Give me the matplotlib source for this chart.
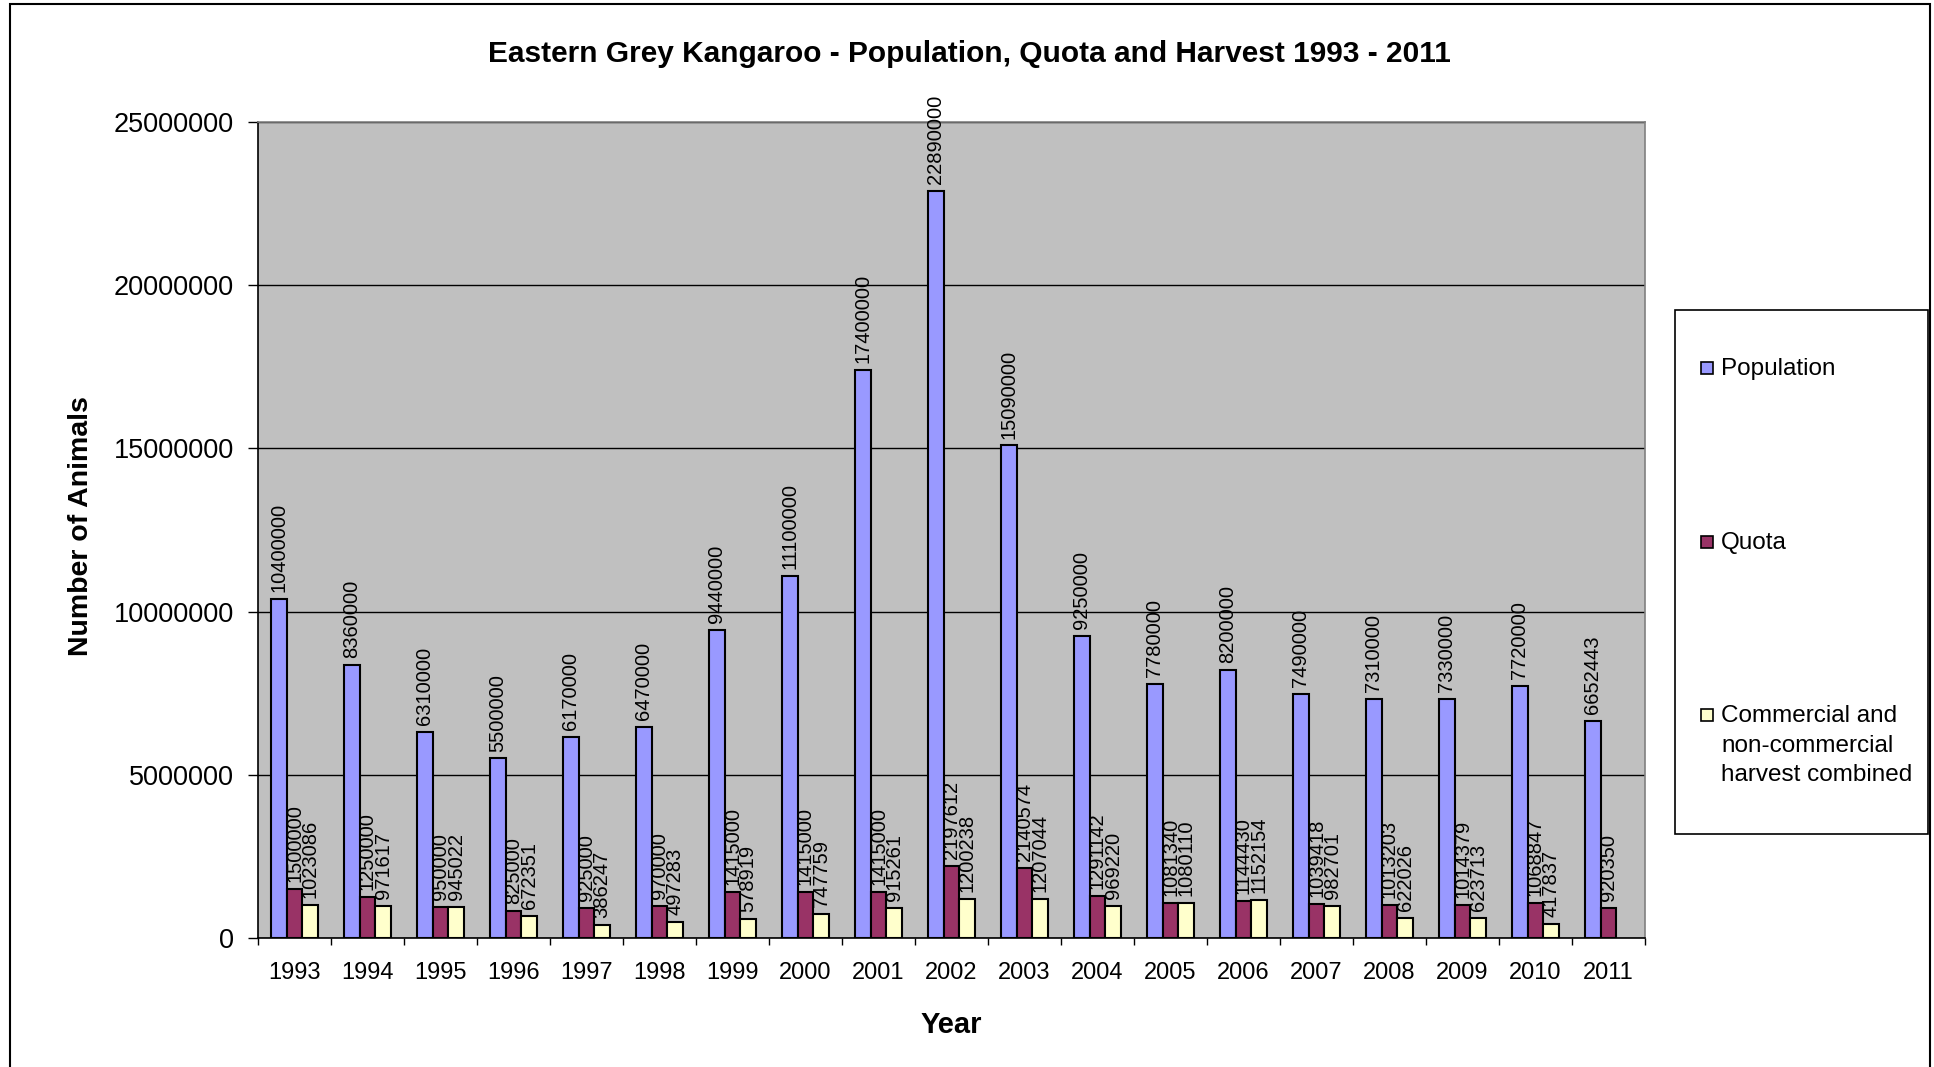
import matplotlib
matplotlib.use('Agg')
import matplotlib.pyplot as plt
from matplotlib.patches import Rectangle
import numpy as np

plt.rcParams['font.family'] = ['Liberation Sans', 'DejaVu Sans']

years = [str(y) for y in range(1993, 2012)]
population = [10400000, 8360000, 6310000, 5500000, 6170000, 6470000, 9440000,
              11100000, 17400000, 22890000, 15090000, 9250000, 7780000, 8200000,
              7490000, 7310000, 7330000, 7720000, 6652443]
quota = [1500000, 1250000, 950000, 825000, 925000, 970000, 1415000, 1415000,
         1415000, 2197612, 2140574, 1291142, 1081340, 1144430, 1039418,
         1013203, 1014379, 1068847, 920350]
harvest = [1023086, 971617, 945022, 672351, 386247, 497283, 578919, 747759,
           915261, 1200238, 1207044, 969220, 1080110, 1152154, 982701, 622026,
           623713, 417837, np.nan]

series = [("Population", population, "#9999FF"),
          ("Quota", quota, "#993366"),
          ("Commercial and\nnon-commercial\nharvest combined", harvest, "#FFFFCC")]

W, H = 1934, 1067
fig = plt.figure(figsize=(W / 100, H / 100), dpi=100)

# plot area in pixels
left, right, top, bottom = 258, 1645, 122, 938
ax = fig.add_axes([left / W, 1 - bottom / H, (right - left) / W, (bottom - top) / H])
ax.set_facecolor("#C0C0C0")

x = np.arange(len(years))
bw = 0.215
for i, (name, vals, col) in enumerate(series):
    vals = np.array(vals, dtype=float)
    bars = ax.bar(x + (i - 1) * bw, vals, bw, color=col, edgecolor="black",
                  linewidth=1.5, zorder=3)
    labels = ["" if np.isnan(v) else f"{int(v)}" for v in vals]
    ax.bar_label(bars, labels=labels, rotation=90, padding=5, fontsize=14.5,
                 zorder=4)

ax.set_xlim(-0.5, len(years) - 0.5)
ax.set_ylim(0, 25000000)
ax.set_yticks(np.arange(0, 25000001, 5000000))
ax.set_yticklabels([str(v) for v in range(0, 25000001, 5000000)], fontsize=19.5)
ax.tick_params(axis="y", length=7.2, width=1, pad=10, direction="out")
ax.yaxis.grid(True, color="black", linewidth=1)
ax.set_axisbelow(True)

ax.set_xticks(x)
ax.set_xticklabels(years, fontsize=17)
ax.tick_params(axis="x", which="major", length=0, pad=17)
ax.set_xticks(np.arange(-0.5, len(years), 1), minor=True)
ax.tick_params(axis="x", which="minor", length=5, width=1, direction="out")

for s in ["left", "bottom"]:
    ax.spines[s].set_color("black")
    ax.spines[s].set_linewidth(1.2)
for s in ["top", "right"]:
    ax.spines[s].set_color("#808080")
    ax.spines[s].set_linewidth(1.2)

fig.text(969 / W, 1 - 54 / H,
         "Eastern Grey Kangaroo - Population, Quota and Harvest 1993 - 2011",
         ha="center", va="center", fontsize=21.5, fontweight="bold")
fig.text(81 / W, 1 - 526 / H, "Number of Animals", rotation=90, ha="center",
         va="center", fontsize=20.5, fontweight="bold")
fig.text(0.5 * (left + right) / W, 1 - 1025 / H, "Year", ha="center",
         va="center", fontsize=21, fontweight="bold")

# legend box drawn by hand to match the spread-out layout
fig.patches.append(Rectangle((1675 / W, 1 - 834 / H), 253 / W, 524 / H,
                             transform=fig.transFigure, facecolor="white",
                             edgecolor="black", linewidth=1.2))
leg_y = [368, 542, 715]
for (name, vals, col), ly in zip(series, leg_y):
    fig.patches.append(Rectangle((1701 / W, 1 - (ly + 6) / H), 12 / W, 12 / H,
                                 transform=fig.transFigure, facecolor=col,
                                 edgecolor="black", linewidth=1.2))
    fig.text(1721 / W, 1 - (ly - 10) / H, name, ha="left", va="top",
             fontsize=17.5, linespacing=1.45)

# outer chart border
fig.patches.append(Rectangle((10 / W, -0.01), 1920 / W, 1.0063,
                             transform=fig.transFigure, facecolor="none",
                             edgecolor="black", linewidth=1.5))

fig.savefig("out.png", dpi=100)
